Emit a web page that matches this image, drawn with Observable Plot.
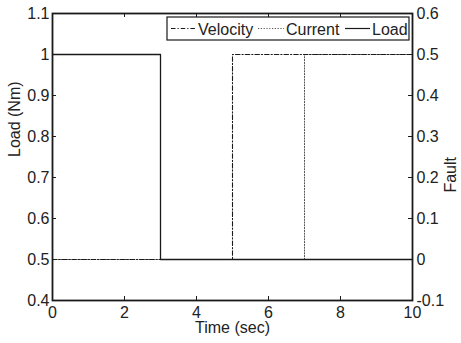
<!DOCTYPE html>
<html>
<head>
<meta charset="utf-8">
<script src="https://cdn.jsdelivr.net/npm/d3@7"></script>
<script src="https://cdn.jsdelivr.net/npm/@observablehq/plot@0.6"></script>
<style>
html, body { margin: 0; padding: 0; background: #fff; }
</style>
</head>
<body>
<div id="chart"></div>
<script>
// Data
const loadTime = [0, 3, 10];
const loadValue = [1, 0.5, 0.5];
const velocityTime = [0, 5, 10];
const velocityFault = [0, 0.5, 0.5];
const currentTime = [0, 7, 10];
const currentFault = [0, 0.5, 0.5];

const xTicks = [0, 2, 4, 6, 8, 10];
const loadTicks = [0.4, 0.5, 0.6, 0.7, 0.8, 0.9, 1.0, 1.1];
const faultTicks = [-0.1, 0, 0.1, 0.2, 0.3, 0.4, 0.5, 0.6];
const faultOffset = 0.5; // right axis: Fault = Load axis value - 0.5

const seriesNames = ["Velocity", "Current", "Load"];

const loadData = loadTime.map((t, i) => ({t, y: loadValue[i]}));
const velData = velocityTime.map((t, i) => ({t, y: velocityFault[i] + faultOffset}));
const curData = currentTime.map((t, i) => ({t, y: currentFault[i] + faultOffset}));

const fmt = d => String(+(+d).toFixed(1));
const ink = "#1a1a1a";
const innerH = 343 - 13 - 43;
const innerW = 461 - 52 - 49;
const tick = 4;
const dashDot = "4.5,2,1.2,2";
const dotted = "1.2,1.6";

const chart = Plot.plot({
  width: 461,
  height: 343,
  marginLeft: 52,
  marginRight: 49,
  marginTop: 13,
  marginBottom: 43,
  x: {domain: [0, 10]},
  y: {domain: [0.4, 1.1]},
  style: {fontFamily: "'Liberation Sans', Arial, sans-serif", fontSize: "16px", color: "#222", background: "#fff"},
  marks: [
    // data lines
    Plot.line(curData, {x: "t", y: "y", curve: "step-after", stroke: "#555", strokeWidth: 1, strokeDasharray: dotted}),
    Plot.line(velData, {x: "t", y: "y", curve: "step-after", stroke: ink, strokeWidth: 1.1, strokeDasharray: dashDot}),
    Plot.line(loadData, {x: "t", y: "y", curve: "step-after", stroke: ink, strokeWidth: 1.3}),
    // inward ticks
    Plot.tickX(xTicks, {x: d => d, insetTop: innerH - tick, stroke: ink, strokeWidth: 1}),
    Plot.tickX(xTicks, {x: d => d, insetBottom: innerH - tick, stroke: ink, strokeWidth: 1}),
    Plot.tickY(loadTicks, {y: d => d, insetRight: innerW - tick, stroke: ink, strokeWidth: 1}),
    Plot.tickY(faultTicks, {y: d => d + faultOffset, insetLeft: innerW - tick, stroke: ink, strokeWidth: 1}),
    // tick labels
    Plot.axisX({ticks: xTicks, tickSize: 0, tickPadding: 6, tickFormat: fmt, label: null}),
    Plot.axisY({ticks: loadTicks, tickSize: 0, tickPadding: 3, tickFormat: fmt, label: null, anchor: "left"}),
    Plot.axisY({ticks: faultTicks.map(f => f + faultOffset), tickSize: 0, tickPadding: 4, anchor: "right",
      tickFormat: d => fmt(d - faultOffset), label: null}),
    // axis titles
    Plot.text(["Time (sec)"], {frameAnchor: "bottom", dy: 32, lineAnchor: "bottom", fill: "#222"}),
    Plot.text(["Load (Nm)"], {frameAnchor: "left", dx: -33, rotate: -90, lineAnchor: "bottom", fill: "#222"}),
    Plot.text(["Fault"], {frameAnchor: "right", dx: 43, rotate: -90, lineAnchor: "bottom", fill: "#222"}),
    // frame
    Plot.frame({stroke: ink, strokeWidth: 1.8})
  ]
});

// Legend (drawn inside the plot area as in the reference)
const svg = d3.select(chart);
const lg = svg.append("g").attr("font-family", "'Liberation Sans', Arial, sans-serif")
  .attr("font-size", 16).attr("fill", "#222").attr("text-anchor", "start");
lg.append("rect").attr("x", 167).attr("y", 17).attr("width", 242).attr("height", 23)
  .attr("fill", "#fff").attr("stroke", ink).attr("stroke-width", 1.2);
const items = [
  {name: seriesNames[0], dash: dashDot, color: ink, x0: 171, x1: 196, tx: 198},
  {name: seriesNames[1], dash: dotted, color: "#555", x0: 258, x1: 284, tx: 286},
  {name: seriesNames[2], dash: null, color: ink, x0: 345, x1: 370, tx: 372}
];
for (const it of items) {
  const l = lg.append("line").attr("x1", it.x0).attr("x2", it.x1).attr("y1", 28.5).attr("y2", 28.5)
    .attr("stroke", it.color).attr("stroke-width", 1.2);
  if (it.dash) l.attr("stroke-dasharray", it.dash);
  lg.append("text").attr("x", it.tx).attr("y", 34.5).attr("text-anchor", "start").text(it.name);
}

document.getElementById("chart").appendChild(chart);
</script>
</body>
</html>
